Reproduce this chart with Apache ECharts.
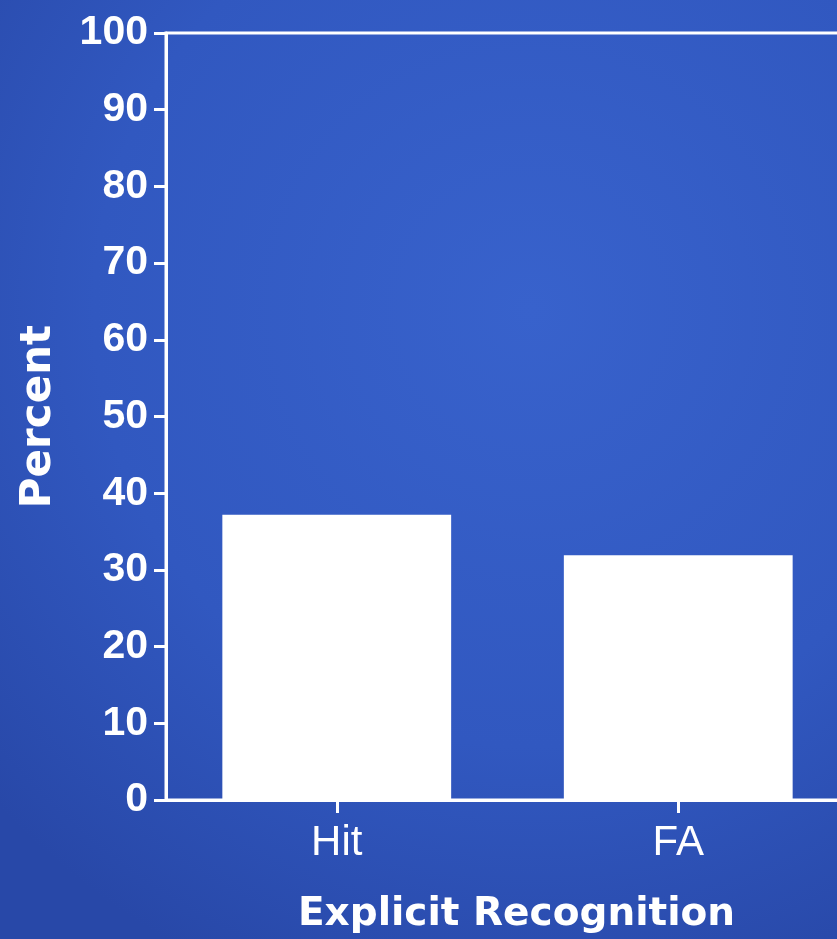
<!DOCTYPE html>
<html>
<head>
<meta charset="utf-8">
<script src="https://cdn.jsdelivr.net/npm/echarts@6/dist/echarts.min.js"></script>
<style>
html,body{margin:0;padding:0;background:#2f55bb;overflow:hidden;width:837px;height:939px;}
#chart{width:856px;height:939px;}
</style>
</head>
<body>
<div id="chart"></div>
<script>
var categories = ['Hit', 'FA'];
var percentValues = [37.2, 31.9];
var yTicks = [0, 10, 20, 30, 40, 50, 60, 70, 80, 90, 100];
var xAxisTitle = 'Explicit Recognition';
var yAxisTitle = 'Percent';

var tickFont = "'Liberation Sans', Arial, sans-serif";
var wide = "'DejaVu Sans', sans-serif";

var chart = echarts.init(document.getElementById('chart'));
chart.setOption({
  animation: false,
  backgroundColor: {
    type: 'radial', x: 0.62, y: 0.33, r: 0.85,
    colorStops: [
      {offset: 0, color: '#3862cc'},
      {offset: 0.6, color: '#3158c0'},
      {offset: 1, color: '#2848a8'}
    ]
  },
  grid: {
    left: 166, top: 33, right: 7, bottom: 132,
    show: true, borderColor: '#ffffff', borderWidth: 3,
    backgroundColor: 'transparent'
  },
  xAxis: {
    type: 'category',
    data: categories,
    axisLine: {lineStyle: {color: '#ffffff', width: 3}},
    axisTick: {show: true, alignWithLabel: true, length: 13, lineStyle: {color: '#ffffff', width: 3}},
    axisLabel: {color: '#ffffff', fontFamily: tickFont, fontSize: 42, margin: 22},
    name: xAxisTitle,
    nameLocation: 'middle',
    nameGap: 95,
    nameTextStyle: {color: '#ffffff', fontFamily: wide, fontWeight: 'bold', fontSize: 39, padding: [0, 0, 0, 18]}
  },
  yAxis: {
    type: 'value',
    min: yTicks[0], max: yTicks[yTicks.length - 1], interval: 10,
    axisLine: {show: true, lineStyle: {color: '#ffffff', width: 3}},
    axisTick: {show: true, length: 12, lineStyle: {color: '#ffffff', width: 3}},
    splitLine: {show: false},
    axisLabel: {color: '#ffffff', fontFamily: tickFont, fontSize: 41, fontWeight: 'bold', margin: 18},
    name: yAxisTitle,
    nameLocation: 'middle',
    nameRotate: 90,
    nameGap: 106,
    nameTextStyle: {color: '#ffffff', fontFamily: wide, fontWeight: 'bold', fontSize: 42}
  },
  series: [{
    type: 'bar',
    data: percentValues,
    barWidth: '67%',
    itemStyle: {color: '#ffffff'}
  }]
});
</script>
</body>
</html>
